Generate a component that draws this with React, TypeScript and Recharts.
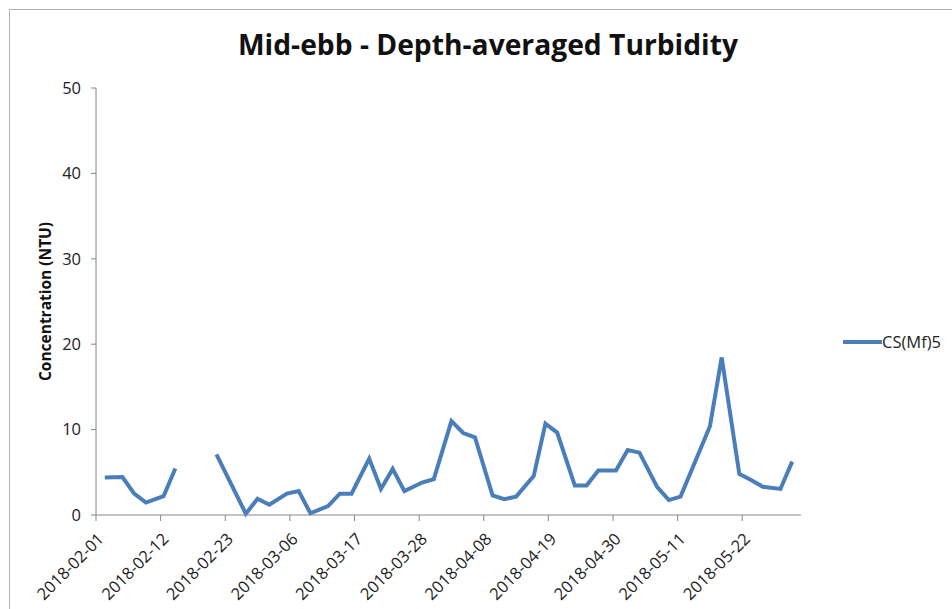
import React from "react";
import { Legend, Line, LineChart, XAxis, YAxis } from "recharts";

// Mid-ebb depth-averaged turbidity at CS(Mf)5, Feb–May 2018.
// Sample dates and values; null = no sample (gap).
const SAMPLE_DATES = [
  "2018-02-02", "2018-02-05", "2018-02-07", "2018-02-09", "2018-02-12", "2018-02-14",
  "2018-02-17", "2018-02-21", "2018-02-26", "2018-02-28", "2018-03-02", "2018-03-05",
  "2018-03-07", "2018-03-09", "2018-03-12", "2018-03-14", "2018-03-16", "2018-03-19",
  "2018-03-21", "2018-03-23", "2018-03-25", "2018-03-28", "2018-03-30", "2018-04-02",
  "2018-04-04", "2018-04-06", "2018-04-09", "2018-04-11", "2018-04-13", "2018-04-16",
  "2018-04-18", "2018-04-20", "2018-04-23", "2018-04-25", "2018-04-27", "2018-04-30",
  "2018-05-02", "2018-05-04", "2018-05-07", "2018-05-09", "2018-05-11", "2018-05-16",
  "2018-05-18", "2018-05-21", "2018-05-23", "2018-05-25", "2018-05-28", "2018-05-30",
];

const TURBIDITY: (number | null)[] = [
  4.4, 4.45, 2.5, 1.45, 2.2, 5.45,
  null, 7.1, 0.15, 1.9, 1.2, 2.5,
  2.8, 0.2, 1.05, 2.5, 2.5, 6.6,
  3.05, 5.4, 2.8, 3.8, 4.2, 11.0,
  9.6, 9.1, 2.3, 1.85, 2.15, 4.55,
  10.7, 9.65, 3.45, 3.45, 5.2, 5.2,
  7.6, 7.3, 3.3, 1.75, 2.15, 10.4,
  18.45, 4.8, 4.1, 3.3, 3.05, 6.25,
];

const X_TICK_DATES = [
  "2018-02-01", "2018-02-12", "2018-02-23", "2018-03-06", "2018-03-17", "2018-03-28",
  "2018-04-08", "2018-04-19", "2018-04-30", "2018-05-11", "2018-05-22",
];
const AXIS_START = "2018-02-01";
const AXIS_END = "2018-06-01";
const Y_TICKS = [0, 10, 20, 30, 40, 50];

const SERIES_NAME = "CS(Mf)5";
const TITLE = "Mid-ebb - Depth-averaged Turbidity";
const Y_LABEL = "Concentration (NTU)";

const FONT = "'Open Sans', 'Noto Sans', sans-serif";
const LINE_COLOR = "#4a7ebb";
const AXIS_COLOR = "#868686";
const TEXT_COLOR = "#222";

const DAY_MS = 86400000;
const dayOf = (d: string) =>
  (Date.parse(d + "T00:00:00Z") - Date.parse(AXIS_START + "T00:00:00Z")) / DAY_MS;

// Excel date axis: each day is a slot, the point sits in the middle of it.
const data = SAMPLE_DATES.map((d, i) => ({ day: dayOf(d) + 0.5, value: TURBIDITY[i] }));
const xTicks = X_TICK_DATES.map(dayOf);
const labelFor = new Map(xTicks.map((t, i) => [t, X_TICK_DATES[i]]));

function DateTick({ x, y, payload }: any) {
  return (
    <g transform={`translate(${x},${y})`}>
      <text
        x={0}
        y={0}
        textAnchor="end"
        fill={TEXT_COLOR}
        fontSize={16.5}
        fontFamily={FONT}
        transform="translate(9,17) rotate(-45)"
      >
        {labelFor.get(payload.value)}
      </text>
    </g>
  );
}

function LegendBox() {
  return (
    <div style={{ display: "flex", alignItems: "center", fontFamily: FONT, fontSize: 16.5, color: TEXT_COLOR }}>
      <svg width={40} height={10}>
        <line x1={1} y1={5} x2={40} y2={5} stroke={LINE_COLOR} strokeWidth={4} />
      </svg>
      <span>{SERIES_NAME}</span>
    </div>
  );
}

export default function App() {
  return (
    <div style={{ position: "absolute", left: 0, top: 0, width: 952, height: 609, background: "#fff" }}>
      <svg width={952} height={609} style={{ position: "absolute", left: 0, top: 0, pointerEvents: "none" }}>
        <rect x={9.5} y={9.5} width={960} height={620} fill="none" stroke="#b3b3b3" strokeWidth={1} />
        <text
          x={488}
          y={55}
          textAnchor="middle"
          fontFamily={FONT}
          fontWeight={700}
          fontSize={28}
          fill="#111"
          textLength={500}
          lengthAdjust="spacingAndGlyphs"
        >
          {TITLE}
        </text>
      </svg>
      <LineChart
        width={952}
        height={609}
        data={data}
        margin={{ top: 88, right: 151, bottom: 0, left: 0 }}
        style={{ position: "absolute", left: 0, top: 0 }}
      >
        <XAxis
          type="number"
          dataKey="day"
          domain={[dayOf(AXIS_START), dayOf(AXIS_END)]}
          ticks={xTicks}
          interval={0}
          tick={<DateTick />}
          tickSize={6}
          axisLine={{ stroke: AXIS_COLOR }}
          tickLine={{ stroke: AXIS_COLOR }}
          height={94}
        />
        <YAxis
          type="number"
          domain={[0, 50]}
          ticks={Y_TICKS}
          width={96}
          tickSize={5}
          tickMargin={10}
          axisLine={{ stroke: AXIS_COLOR }}
          tickLine={{ stroke: AXIS_COLOR }}
          tick={{ fill: TEXT_COLOR, fontSize: 16.5, fontFamily: FONT }}
          label={{
            value: Y_LABEL,
            angle: -90,
            position: "center",
            dx: -3,
            style: { fill: "#111", fontSize: 15.5, fontWeight: 700, fontFamily: FONT },
          }}
        />
        <Legend
          layout="horizontal"
          align="center"
          verticalAlign="middle"
          content={<LegendBox />}
          wrapperStyle={{ position: "absolute", left: 842, top: 330, width: "auto" }}
        />
        <Line
          type="linear"
          dataKey="value"
          name={SERIES_NAME}
          stroke={LINE_COLOR}
          strokeWidth={4}
          dot={false}
          activeDot={false}
          connectNulls={false}
          isAnimationActive={false}
        />
      </LineChart>
    </div>
  );
}
